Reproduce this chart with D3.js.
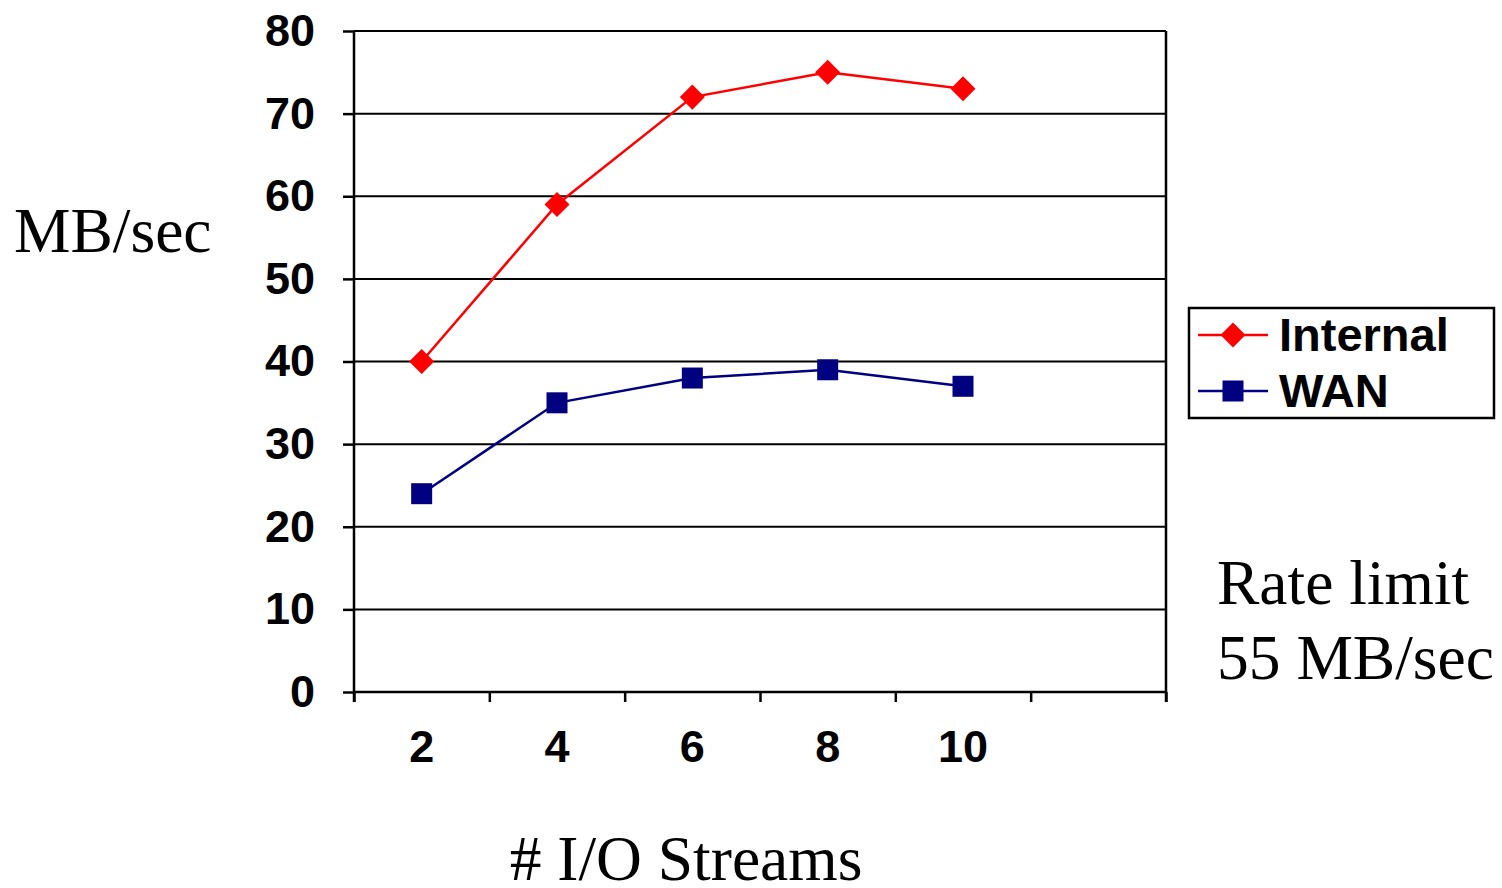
<!DOCTYPE html>
<html>
<head>
<meta charset="utf-8">
<script src="https://cdn.jsdelivr.net/npm/d3@7"></script>
<style>
  body { margin: 0; background: #fff; }
  svg { display: block; }
</style>
</head>
<body>
<div id="viz-container"></div>
<script>
// data
let streams = ['2', '4', '6', '8', '10'];
let internalVals = [40, 59, 72, 75, 73];
let wanVals = [24, 35, 38, 39, 37];
let yTicks = [0, 10, 20, 30, 40, 50, 60, 70, 80];
let seriesNames = ['Internal', 'WAN'];

let width = 1502;
let height = 888;
let plotLeft = 354, plotRight = 1166, plotTop = 31, plotBottom = 692;

let viz = d3.select('#viz-container')
  .append('svg')
  .attr('width', width)
  .attr('height', height);

// one empty slot at the end, like the original
let slots = streams.concat(['']);
let xScale = d3.scaleBand().domain(slots).range([plotLeft, plotRight]);
let xEdge = d3.scaleLinear().domain([0, slots.length]).range([plotLeft, plotRight]);
let yScale = d3.scaleLinear().domain([0, 80]).range([plotBottom, plotTop]);

// gridlines
viz.selectAll('.grid').data(yTicks).enter()
  .append('line')
  .attr('class', 'grid')
  .attr('x1', plotLeft).attr('x2', plotRight)
  .attr('y1', d => yScale(d)).attr('y2', d => yScale(d))
  .attr('stroke', '#000')
  .attr('stroke-width', 2);

// right frame
viz.append('line')
  .attr('x1', plotRight).attr('x2', plotRight)
  .attr('y1', yScale(80)).attr('y2', yScale(0) + 10)
  .attr('stroke', '#000').attr('stroke-width', 2.5);

// y axis
let yAxis = viz.append('g')
  .attr('transform', 'translate(' + plotLeft + ',0)')
  .call(d3.axisLeft(yScale).tickValues(yTicks).tickSize(11).tickPadding(28));
yAxis.select('.domain').attr('stroke-width', 2.5).attr('d', 'M0,' + plotTop + 'V' + (plotBottom + 10));
yAxis.selectAll('.tick line').attr('stroke-width', 2.5);
yAxis.selectAll('text')
  .attr('font-family', 'Liberation Sans, Arial, sans-serif')
  .attr('font-weight', 'bold')
  .attr('font-size', 45)
  .attr('fill', '#000');

// x axis: ticks at band edges
let xTickAxis = viz.append('g')
  .attr('transform', 'translate(0,' + plotBottom + ')')
  .call(d3.axisBottom(xEdge).tickValues(d3.range(slots.length + 1)).tickSize(10).tickFormat(''));
xTickAxis.select('.domain').attr('stroke-width', 2.5).attr('d', 'M' + plotLeft + ',0H' + plotRight);
xTickAxis.selectAll('.tick line').attr('stroke-width', 2.5);

let xLabelAxis = viz.append('g')
  .attr('transform', 'translate(0,' + plotBottom + ')')
  .call(d3.axisBottom(xScale).tickSize(0).tickPadding(38));
xLabelAxis.select('.domain').remove();
xLabelAxis.selectAll('text')
  .attr('font-family', 'Liberation Sans, Arial, sans-serif')
  .attr('font-weight', 'bold')
  .attr('font-size', 45)
  .attr('fill', '#000');

let cx = (d, i) => xScale(streams[i]) + xScale.bandwidth() / 2;
let line = d3.line().x(cx).y(d => yScale(d));
let diamond = d3.symbol().type(d3.symbolDiamond2).size(400);

// Internal series
viz.append('path')
  .datum(internalVals)
  .attr('d', line)
  .attr('fill', 'none')
  .attr('stroke', '#ff0000')
  .attr('stroke-width', 2.5);
viz.selectAll('.diamond').data(internalVals).enter()
  .append('path')
  .attr('class', 'diamond')
  .attr('d', diamond)
  .attr('transform', (d, i) => 'translate(' + cx(d, i) + ',' + yScale(d) + ')')
  .attr('fill', '#ff0000');

// WAN series
viz.append('path')
  .datum(wanVals)
  .attr('d', line)
  .attr('fill', 'none')
  .attr('stroke', '#000080')
  .attr('stroke-width', 2.5);
viz.selectAll('.square').data(wanVals).enter()
  .append('rect')
  .attr('class', 'square')
  .attr('x', (d, i) => cx(d, i) - 10.5)
  .attr('y', d => yScale(d) - 10.5)
  .attr('width', 21).attr('height', 21)
  .attr('fill', '#000080');

// legend
let legend = viz.append('g');
legend.append('rect')
  .attr('x', 1189).attr('y', 308)
  .attr('width', 305).attr('height', 110)
  .attr('fill', '#fff')
  .attr('stroke', '#000')
  .attr('stroke-width', 2.5);
let legColors = ['#ff0000', '#000080'];
seriesNames.forEach(function(name, i) {
  let ly = 335 + i * 56;
  legend.append('line')
    .attr('x1', 1198).attr('x2', 1268)
    .attr('y1', ly).attr('y2', ly)
    .attr('stroke', legColors[i]).attr('stroke-width', 2.5);
  if (i == 0) {
    legend.append('path')
      .attr('d', diamond)
      .attr('transform', 'translate(1233,' + ly + ')')
      .attr('fill', legColors[i]);
  } else {
    legend.append('rect')
      .attr('x', 1233 - 10.5).attr('y', ly - 10.5)
      .attr('width', 21).attr('height', 21)
      .attr('fill', legColors[i]);
  }
  legend.append('text')
    .text(name)
    .attr('x', 1279).attr('y', ly + 16)
    .attr('font-family', 'Liberation Sans, Arial, sans-serif')
    .attr('font-weight', 'bold')
    .attr('font-size', 47)
    .attr('fill', '#000');
});

// serif annotations
let serif = 'Liberation Serif, Times New Roman, serif';
viz.append('text')
  .text('MB/sec')
  .attr('x', 14).attr('y', 252)
  .attr('font-family', serif).attr('font-size', 63.5);
viz.append('text')
  .text('Rate limit')
  .attr('x', 1217).attr('y', 604)
  .attr('font-family', serif).attr('font-size', 63.5);
viz.append('text')
  .text('55 MB/sec')
  .attr('x', 1217).attr('y', 679)
  .attr('font-family', serif).attr('font-size', 63.5);
viz.append('text')
  .text('# I/O Streams')
  .attr('x', 686).attr('y', 880)
  .attr('text-anchor', 'middle')
  .attr('font-family', serif).attr('font-size', 63.5);
</script>
</body>
</html>
